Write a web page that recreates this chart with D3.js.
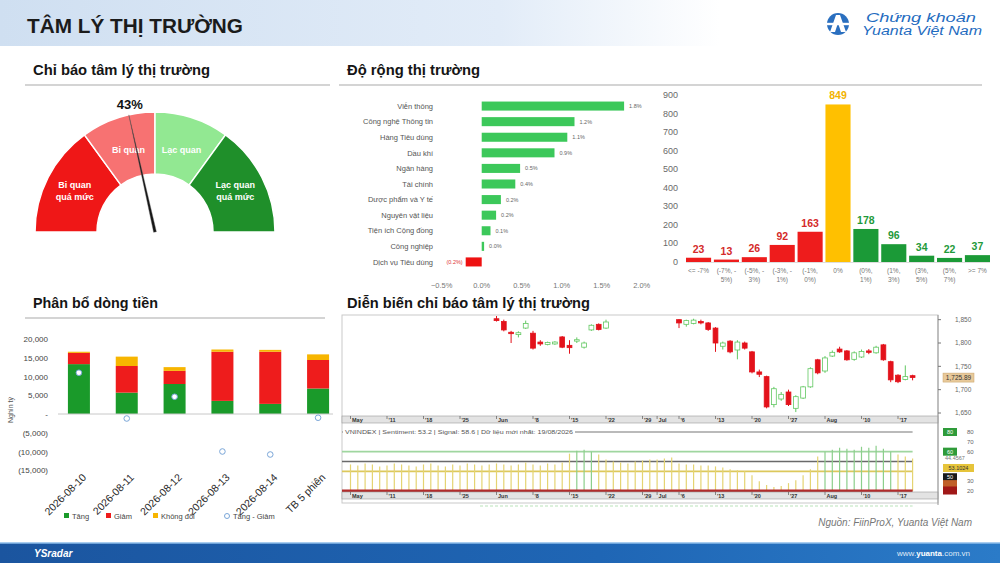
<!DOCTYPE html>
<html>
<head>
<meta charset="utf-8">
<title>Tâm lý thị trường</title>
<script src="https://d3js.org/d3.v7.min.js"></script>
<style>
  body { margin: 0; background: #fff; }
  svg { display: block; font-family: "Liberation Sans", Arial, sans-serif; }
</style>
</head>
<body>
<div id="chart"></div>
<script>
// ---------- data ----------
// gauge
var gaugeValue = 43;
var gaugeBreaks = [0, 30, 50, 70, 100];
var gaugeZoneLines = [["Bi quan", "quá mức"], ["Bi quan"], ["Lạc quan"], ["Lạc quan", "quá mức"]];

// sector breadth (%)
var sectors = ["Viễn thông", "Công nghệ Thông tin", "Hàng Tiêu dùng", "Dầu khí", "Ngân hàng", "Tài chính",
  "Dược phẩm và Y tế", "Nguyên vật liệu", "Tiện ích Cộng đồng", "Công nghiệp", "Dịch vụ Tiêu dùng"];
var sectorChange = [1.78, 1.16, 1.07, 0.91, 0.48, 0.42, 0.24, 0.18, 0.11, 0.03, -0.2];
var sectorTicks = [-0.5, 0, 0.5, 1, 1.5, 2];

// distribution of price changes
var binLabels = [["<= -7%"], ["(-7%, -", "5%)"], ["(-5%, -", "3%)"], ["(-3%, -", "1%)"], ["(-1%,", "0%)"], ["0%"],
  ["(0%,", "1%)"], ["(1%,", "3%)"], ["(3%,", "5%)"], ["(5%,", "7%)"], [">= 7%"]];
var binCounts = [23, 13, 26, 92, 163, 849, 178, 96, 34, 22, 37];
var binTicks = [0, 100, 200, 300, 400, 500, 600, 700, 800, 900];

// money flow (billion VND)
var flowDays = ["2026-08-10", "2026-08-11", "2026-08-12", "2026-08-13", "2026-08-14", "TB 5 phiên"];
var flowUp = [13300, 5700, 8000, 3500, 2700, 6800];
var flowDown = [3000, 7100, 3500, 13100, 13900, 7600];
var flowFlat = [300, 2500, 1000, 600, 500, 1500];
var flowNet = [11000, -1200, 4600, -10000, -10800, -1000];
var flowTicks = [-15000, -10000, -5000, 0, 5000, 10000, 15000, 20000];

// VNINDEX candles: date, open, high, low, close
var candles = [
  ["2026-06-01", 1852, 1858, 1846, 1848], ["2026-06-02", 1846, 1850, 1825, 1828],
  ["2026-06-03", 1823, 1826, 1800, 1820], ["2026-06-04", 1818, 1825, 1812, 1822],
  ["2026-06-05", 1832, 1848, 1830, 1842], ["2026-06-08", 1821, 1826, 1786, 1789],
  ["2026-06-09", 1802, 1806, 1794, 1798], ["2026-06-10", 1797, 1803, 1795, 1801],
  ["2026-06-11", 1798, 1804, 1796, 1802], ["2026-06-12", 1813, 1815, 1789, 1791],
  ["2026-06-15", 1795, 1806, 1777, 1790], ["2026-06-16", 1804, 1812, 1800, 1807],
  ["2026-06-17", 1791, 1803, 1788, 1800], ["2026-06-18", 1828, 1840, 1826, 1838],
  ["2026-06-19", 1840, 1842, 1827, 1829], ["2026-06-22", 1832, 1850, 1830, 1845],
  ["2026-07-06", 1850, 1851, 1832, 1843], ["2026-07-07", 1840, 1850, 1835, 1848],
  ["2026-07-08", 1842, 1852, 1840, 1849], ["2026-07-09", 1846, 1850, 1840, 1843],
  ["2026-07-10", 1843, 1845, 1826, 1829], ["2026-07-13", 1832, 1834, 1781, 1800],
  ["2026-07-14", 1793, 1803, 1786, 1800], ["2026-07-15", 1804, 1806, 1778, 1781],
  ["2026-07-16", 1785, 1806, 1765, 1802], ["2026-07-17", 1800, 1803, 1786, 1789],
  ["2026-07-20", 1781, 1783, 1735, 1738], ["2026-07-21", 1738, 1743, 1727, 1733],
  ["2026-07-22", 1728, 1730, 1660, 1663], ["2026-07-23", 1668, 1706, 1662, 1702],
  ["2026-07-24", 1680, 1695, 1676, 1690], ["2026-07-27", 1695, 1700, 1665, 1668],
  ["2026-07-28", 1660, 1688, 1652, 1685], ["2026-07-29", 1682, 1708, 1680, 1706],
  ["2026-07-30", 1706, 1748, 1704, 1745], ["2026-07-31", 1764, 1766, 1733, 1736],
  ["2026-08-03", 1740, 1772, 1736, 1768], ["2026-08-04", 1772, 1784, 1770, 1780],
  ["2026-08-05", 1787, 1792, 1779, 1781], ["2026-08-06", 1783, 1785, 1762, 1764],
  ["2026-08-07", 1765, 1782, 1762, 1779], ["2026-08-10", 1770, 1786, 1768, 1782],
  ["2026-08-11", 1783, 1787, 1776, 1780], ["2026-08-12", 1779, 1794, 1777, 1791],
  ["2026-08-13", 1796, 1798, 1762, 1764], ["2026-08-14", 1760, 1762, 1716, 1721],
  ["2026-08-17", 1731, 1733, 1714, 1717], ["2026-08-18", 1722, 1752, 1720, 1728],
  ["2026-08-19", 1730, 1732, 1720, 1725.89]
];
var lastPrice = 1725.89;
var priceTicks = [1650, 1700, 1750, 1800, 1850];

// daily sentiment, one per trading day from 2026-05-04 to 2026-08-19
var sentiment = [
  47, 46, 48, 47, 45, 46, 48, 47, 46, 45, 47, 48, 46, 45, 47, 46, 48, 47, 46, 47,
  48, 47, 46, 47, 49, 47, 46, 48, 47, 49, 58, 61, 62, 60, 57, 52, 50, 49, 48, 50, 51, 52,
  52, 53, 54, 48, 47, 47, 46, 46, 45, 44, 42, 41, 40, 36, 30, 26, 24, 25, 28, 31, 36, 42, 55,
  60, 62, 64, 63, 62, 65, 64, 66, 63, 60, 57, 55, 53
];
var sentimentLevels = [80, 60, 50, 40, 20];
var sentimentTicks = [80, 70, 60, 30, 20];
var timeTicks = ["2026-05-04", "2026-05-11", "2026-05-18", "2026-05-25", "2026-06-01", "2026-06-08", "2026-06-15",
  "2026-06-22", "2026-06-29", "2026-07-01", "2026-07-06", "2026-07-13", "2026-07-20", "2026-07-27", "2026-08-03",
  "2026-08-10", "2026-08-17"];
var timeTickLabels = ["May", "'11", "'18", "'25", "Jun", "'8", "'15", "'22", "'29", "Jul", "'6", "'13", "'20", "'27", "Aug", "'10", "'17"];
var markValues = [80, 60, 43.4, 34, 27, 20.5];
var markTexts = ["80", "60", "53.1024", "50", "", ""];

// ---------- page ----------
var W = 1000, H = 563;
var svg = d3.select("#chart").append("svg").attr("width", W).attr("height", H);
var defs = svg.append("defs");

// header band
var hg = defs.append("linearGradient").attr("id", "hdr");
hg.append("stop").attr("offset", "0").attr("stop-color", "#cfdff1");
hg.append("stop").attr("offset", "0.5").attr("stop-color", "#e2ecf8");
hg.append("stop").attr("offset", "0.72").attr("stop-color", "#ffffff");
svg.append("rect").attr("x", 0).attr("y", 0).attr("width", W).attr("height", 46).attr("fill", "url(#hdr)");
svg.append("text").attr("x", 27).attr("y", 33).attr("font-size", 21).attr("font-weight", "bold")
  .attr("fill", "#1b1b1b").attr("textLength", 216).attr("lengthAdjust", "spacingAndGlyphs")
  .text("TÂM LÝ THỊ TRƯỜNG");

// logo
var logo = svg.append("g").attr("transform", "translate(838,24)");
logo.append("circle").attr("r", 11).attr("fill", "#2a6fbf");
logo.append("path").attr("d", "M-2,-9 L2,-9 L8,8 L3,8 L0,-1 L-3,8 L-8,8 Z").attr("fill", "#fff");
logo.append("rect").attr("x", -11).attr("y", -1.2).attr("width", 22).attr("height", 2.4).attr("fill", "#fff");
svg.append("text").attr("x", 866).attr("y", 22).attr("font-size", 12).attr("font-style", "italic")
  .attr("fill", "#1f6cc0").attr("textLength", 110).attr("lengthAdjust", "spacingAndGlyphs").text("Chứng khoán");
svg.append("text").attr("x", 862).attr("y", 35).attr("font-size", 12).attr("font-style", "italic")
  .attr("fill", "#1f6cc0").attr("textLength", 120).attr("lengthAdjust", "spacingAndGlyphs").text("Yuanta Việt Nam");

// section titles
function section(txt, x, y, len, x2) {
  svg.append("text").attr("x", x).attr("y", y).attr("font-size", 14).attr("font-weight", "bold")
    .attr("fill", "#151515").attr("textLength", len).attr("lengthAdjust", "spacingAndGlyphs").text(txt);
  if (x2) {
    svg.append("line").attr("x1", x - 8).attr("x2", x2).attr("y1", y + 10).attr("y2", y + 10)
      .attr("stroke", "#d4d4d4").attr("stroke-width", 2);
  }
}
section("Chỉ báo tâm lý thị trường", 33, 75, 177, 330);
section("Độ rộng thị trường", 347, 75, 133, 982);
section("Phân bổ dòng tiền", 33, 308, 125, 325);
section("Diễn biến chỉ báo tâm lý thị trường", 347, 308, 243, null);

// ---------- gauge ----------
var gcx = 155, gcy = 232;
var ang = d3.scaleLinear().domain([0, 100]).range([-Math.PI / 2, Math.PI / 2]);
var zoneColors = ["#ef1717", "#f77272", "#92e892", "#1f8f2a"];
var arc = d3.arc().innerRadius(58).outerRadius(120);
var gauge = svg.append("g").attr("transform", "translate(" + gcx + "," + gcy + ")");
gaugeZoneLines.forEach(function (lines, i) {
  var a0 = ang(gaugeBreaks[i]), a1 = ang(gaugeBreaks[i + 1]);
  gauge.append("path").attr("d", arc({ startAngle: a0, endAngle: a1 }))
    .attr("fill", zoneColors[i]).attr("stroke", "#fff").attr("stroke-width", 1.5);
  var am = (a0 + a1) / 2, r = lines.length > 1 ? 90 : 86;
  var t = gauge.append("text").attr("text-anchor", "middle").attr("font-size", 9).attr("font-weight", "bold")
    .attr("fill", "#fff");
  lines.forEach(function (l, k) {
    t.append("tspan").attr("x", r * Math.sin(am))
      .attr("y", -r * Math.cos(am) + (k - (lines.length - 1) / 2) * 12 + 3).text(l);
  });
});
var na = ang(gaugeValue);
var tipx = 120 * Math.sin(na), tipy = -120 * Math.cos(na);
var px = 1.4 * Math.cos(na), py = 1.4 * Math.sin(na);
gauge.append("path").attr("d", "M" + (-px) + "," + (-py) + " L" + tipx + "," + tipy + " L" + px + "," + py + " Z")
  .attr("fill", "#151515").attr("stroke", "#555").attr("stroke-width", 0.4);
gauge.append("text").attr("x", tipx + 1).attr("y", tipy - 6).attr("text-anchor", "middle")
  .attr("font-size", 13).attr("font-weight", "bold").attr("fill", "#111").text(gaugeValue + "%");

// ---------- sector bars ----------
var sx = d3.scaleLinear().domain([-0.5, 2]).range([441.7, 641.7]);
var sy = d3.scaleBand().domain(sectors).range([95, 273]).padding(0.42);
var sg = svg.append("g");
sg.selectAll("rect").data(sectors).enter().append("rect")
  .attr("x", function (d, i) { return sx(Math.min(0, sectorChange[i])); })
  .attr("y", function (d) { return sy(d); })
  .attr("width", function (d, i) { return Math.abs(sx(sectorChange[i]) - sx(0)); })
  .attr("height", sy.bandwidth())
  .attr("fill", function (d, i) { return sectorChange[i] < 0 ? "#ee1111" : "#3cc85a"; });
sg.selectAll(".cat").data(sectors).enter().append("text")
  .attr("x", 433).attr("y", function (d) { return sy(d) + sy.bandwidth() / 2 + 2.7; })
  .attr("text-anchor", "end").attr("font-size", 7.5).attr("fill", "#555").text(function (d) { return d; });
sg.selectAll(".val").data(sectors).enter().append("text")
  .attr("x", function (d, i) { var v = sectorChange[i]; return v < 0 ? sx(v) - 3 : sx(v) + 5; })
  .attr("y", function (d) { return sy(d) + sy.bandwidth() / 2 + 2; })
  .attr("text-anchor", function (d, i) { return sectorChange[i] < 0 ? "end" : "start"; })
  .attr("font-size", 5.5)
  .attr("fill", function (d, i) { return sectorChange[i] < 0 ? "#d33" : "#666"; })
  .text(function (d, i) {
    var v = sectorChange[i];
    return v < 0 ? "(" + d3.format(".1f")(-v) + "%)" : d3.format(".1f")(v) + "%";
  });
sg.selectAll(".tick").data(sectorTicks).enter().append("text")
  .attr("x", function (d) { return sx(d); }).attr("y", 288).attr("text-anchor", "middle")
  .attr("font-size", 7.5).attr("fill", "#777").text(function (d) { return d3.format(".1f")(d) + "%"; });

// ---------- distribution bars ----------
var bx = d3.scaleBand().domain(d3.range(binCounts.length)).range([686, 990]).paddingInner(0.1);
var by = d3.scaleLinear().domain([0, 900]).range([262, 95]);
function binColor(i) { return i < 5 ? "#ee1c1c" : (i === 5 ? "#ffc000" : "#1b9a37"); }
function binText(i) { return i < 5 ? "#d42a2a" : (i === 5 ? "#f2b300" : "#1f9a3a"); }
var bg = svg.append("g");
bg.selectAll(".yl").data(binTicks).enter().append("text")
  .attr("x", 678).attr("y", function (d) { return by(d) + 3; }).attr("text-anchor", "end")
  .attr("font-size", 9).attr("fill", "#6a6a6a").text(function (d) { return d; });
bg.selectAll("rect").data(binCounts).enter().append("rect")
  .attr("x", function (d, i) { return bx(i); }).attr("width", bx.bandwidth())
  .attr("y", function (d) { return by(d); }).attr("height", function (d) { return by(0) - by(d); })
  .attr("fill", function (d, i) { return binColor(i); });
bg.selectAll(".vl").data(binCounts).enter().append("text")
  .attr("x", function (d, i) { return bx(i) + bx.bandwidth() / 2; })
  .attr("y", function (d) { return by(d) - 5; }).attr("text-anchor", "middle")
  .attr("font-size", 10.5).attr("font-weight", "bold")
  .attr("fill", function (d, i) { return binText(i); }).text(function (d) { return d; });
bg.append("line").attr("x1", 686).attr("x2", 990).attr("y1", 262.5).attr("y2", 262.5)
  .attr("stroke", "#ddd").attr("stroke-width", 1);
binLabels.forEach(function (lines, i) {
  var t = bg.append("text").attr("text-anchor", "middle").attr("font-size", 6.5).attr("fill", "#777");
  lines.forEach(function (l, k) {
    t.append("tspan").attr("x", bx(i) + bx.bandwidth() / 2).attr("y", 273 + k * 9).text(l);
  });
});

// ---------- money flow ----------
var fx = d3.scaleBand().domain(flowDays).range([55, 342]).paddingInner(0.54).paddingOuter(0.27);
var fy = d3.scaleLinear().domain([-15000, 20000]).range([470.25, 339]);
var flowRows = flowDays.map(function (d, i) { return { day: d, up: flowUp[i], down: flowDown[i], flat: flowFlat[i] }; });
var stack = d3.stack().keys(["up", "down", "flat"])(flowRows);
var flowColors = { up: "#1a9a2a", down: "#ee1c1c", flat: "#f7b500" };
var fg = svg.append("g");
fg.selectAll(".yl").data(flowTicks).enter().append("text")
  .attr("x", 48).attr("y", function (d) { return fy(d) + 3; }).attr("text-anchor", "end")
  .attr("font-size", 8).attr("fill", "#444")
  .text(function (d) { return d === 0 ? "-" : (d < 0 ? "(" + d3.format(",")(-d) + ")" : d3.format(",")(d)); });
fg.append("text").attr("transform", "translate(13,410) rotate(-90)").attr("text-anchor", "middle")
  .attr("font-size", 7).attr("fill", "#555").text("Nghìn tỷ");
stack.forEach(function (layer) {
  fg.selectAll(".s" + layer.key).data(layer).enter().append("rect")
    .attr("x", function (d) { return fx(d.data.day); }).attr("width", fx.bandwidth())
    .attr("y", function (d) { return fy(d[1]); }).attr("height", function (d) { return fy(d[0]) - fy(d[1]); })
    .attr("fill", flowColors[layer.key]);
});
fg.append("line").attr("x1", 58).attr("x2", 333).attr("y1", fy(0)).attr("y2", fy(0))
  .attr("stroke", "#c8c8c8").attr("stroke-width", 1);
fg.selectAll(".net").data(flowNet).enter().append("circle")
  .attr("cx", function (d, i) { return fx(flowDays[i]) + fx.bandwidth() / 2; })
  .attr("cy", function (d) { return fy(d); }).attr("r", 2.8)
  .attr("fill", "#fff").attr("stroke", "#7aa6d8").attr("stroke-width", 1);
fg.selectAll(".xl").data(flowDays).enter().append("text")
  .attr("transform", function (d) { return "translate(" + (fx(d) + fx.bandwidth() / 2 + 8) + ",478) rotate(-45)"; })
  .attr("text-anchor", "end").attr("font-size", 10.5).attr("fill", "#2a2a2a").text(function (d) { return d; });
var legend = [["Tăng", 64, "#1a9a2a"], ["Giảm", 106, "#ee1c1c"], ["Không đổi", 153, "#f7b500"]];
legend.forEach(function (l) {
  fg.append("rect").attr("x", l[1]).attr("y", 513).attr("width", 5).attr("height", 5).attr("fill", l[2]);
  fg.append("text").attr("x", l[1] + 8).attr("y", 518.5).attr("font-size", 7.5).attr("fill", "#444").text(l[0]);
});
fg.append("circle").attr("cx", 227).attr("cy", 516).attr("r", 2.5).attr("fill", "#fff")
  .attr("stroke", "#7aa6d8").attr("stroke-width", 1);
fg.append("text").attr("x", 233).attr("y", 518.5).attr("font-size", 7.5).attr("fill", "#444").text("Tăng - Giảm");

// ---------- sentiment chart ----------
var days = d3.timeDay.range(new Date(2026, 4, 4), new Date(2026, 7, 20))
  .filter(function (d) { return d.getDay() > 0 && d.getDay() < 6; });
var dayKeys = days.map(d3.timeFormat("%Y-%m-%d"));
var xd = d3.scalePoint().domain(dayKeys).range([350.5, 912.6]);
var yp = d3.scaleLinear().domain([1650, 1800]).range([413, 343]);
var ys = d3.scaleLinear().domain([20, 80]).range([491, 432]);

var cg = svg.append("g");
cg.append("rect").attr("x", 342).attr("y", 315).attr("width", 596).attr("height", 188)
  .attr("fill", "#fff").attr("stroke", "#c9c9c9").attr("stroke-width", 1);
defs.append("clipPath").attr("id", "pclip").append("rect")
  .attr("x", 342).attr("y", 316).attr("width", 596).attr("height", 100);
var candleG = cg.append("g").attr("clip-path", "url(#pclip)");
candles.forEach(function (c) {
  var x = xd(c[0]), up = c[4] >= c[1];
  var col = up ? "#62c862" : "#e3121b";
  candleG.append("line").attr("x1", x).attr("x2", x).attr("y1", yp(c[2])).attr("y2", yp(c[3]))
    .attr("stroke", col).attr("stroke-width", 1);
  var top = yp(Math.max(c[1], c[4])), bot = yp(Math.min(c[1], c[4]));
  candleG.append("rect").attr("x", x - 2.4).attr("width", 4.8).attr("y", top)
    .attr("height", Math.max(1, bot - top)).attr("fill", up ? "#fff" : col)
    .attr("stroke", col).attr("stroke-width", 0.8);
});

function dateStrip(y) {
  cg.append("rect").attr("x", 342).attr("y", y).attr("width", 596).attr("height", 7)
    .attr("fill", "#e3e3e3").attr("stroke", "#999").attr("stroke-width", 0.6);
  timeTicks.forEach(function (t, i) {
    var x = xd(t);
    cg.append("line").attr("x1", x).attr("x2", x).attr("y1", y).attr("y2", y + 3)
      .attr("stroke", "#444").attr("stroke-width", 0.6);
    cg.append("text").attr("x", x + 1.5).attr("y", y + 6).attr("font-size", 5.5).attr("font-weight", "bold")
      .attr("fill", "#333").text(timeTickLabels[i]);
  });
}
dateStrip(416);

// indicator panel
var lvlColors = ["#a3a3a3", "#9fd69f", "#6a6a6a", "#dcc85c", "#b22b2b"];
sentimentLevels.forEach(function (v, i) {
  if (v === 20) return;
  cg.append("line").attr("x1", 342).attr("x2", xd.range()[1]).attr("y1", ys(v)).attr("y2", ys(v))
    .attr("stroke", lvlColors[i]).attr("stroke-width", 1.6);
});
sentiment.forEach(function (v, i) {
  var x = xd(dayKeys[i]);
  cg.append("line").attr("x1", x).attr("x2", x).attr("y1", ys(20)).attr("y2", ys(v))
    .attr("stroke", v >= 59 ? "#8ccf8c" : "#e5d472").attr("stroke-width", 1.2);
});
cg.append("line").attr("x1", 342).attr("x2", xd.range()[1]).attr("y1", ys(20)).attr("y2", ys(20))
  .attr("stroke", lvlColors[4]).attr("stroke-width", 3);
cg.append("rect").attr("x", 343).attr("y", 428).attr("width", 232).attr("height", 8).attr("fill", "#fff");
cg.append("text").attr("x", 345).attr("y", 434).attr("font-size", 5.5).attr("fill", "#555")
  .attr("textLength", 228).attr("lengthAdjust", "spacingAndGlyphs")
  .text("VNINDEX | Sentiment: 53.2 | Signal: 58.6 | Dữ liệu mới nhất: 19/08/2026");
dateStrip(492);
cg.append("line").attr("x1", 480).attr("x2", xd.range()[1]).attr("y1", 506).attr("y2", 506)
  .attr("stroke", "#b9e3b9").attr("stroke-width", 1).attr("stroke-dasharray", "3,2");

// right axis column
cg.append("line").attr("x1", 938).attr("x2", 938).attr("y1", 315).attr("y2", 505)
  .attr("stroke", "#9a9a9a").attr("stroke-width", 1);
priceTicks.forEach(function (v) {
  cg.append("line").attr("x1", 938).attr("x2", 941).attr("y1", yp(v)).attr("y2", yp(v)).attr("stroke", "#777");
  cg.append("text").attr("x", 955).attr("y", yp(v) + 2.2).attr("font-size", 6.5).attr("fill", "#666")
    .text(d3.format(",")(v));
});
cg.append("rect").attr("x", 943).attr("y", yp(lastPrice) - 4.5).attr("width", 31).attr("height", 9)
  .attr("fill", "#e8c99a").attr("stroke", "#c9a36a").attr("stroke-width", 0.5);
cg.append("text").attr("x", 958.5).attr("y", yp(lastPrice) + 2.2).attr("text-anchor", "middle")
  .attr("font-size", 6.5).attr("fill", "#333").text(d3.format(",.2f")(lastPrice));
sentimentTicks.forEach(function (v) {
  cg.append("text").attr("x", 967).attr("y", ys(v) + 2).attr("font-size", 6).attr("fill", "#666").text(v);
});
var markColors = ["#2f9b3a", "#2f9b3a", "#e6c43a", "#1a1a1a", "#c0602a", "#a01818"];
markValues.forEach(function (v, i) {
  var wide = markTexts[i].length > 3;
  cg.append("rect").attr("x", 943).attr("y", ys(v) - 4).attr("width", wide ? 31 : 14).attr("height", 8)
    .attr("fill", markColors[i]);
  cg.append("text").attr("x", wide ? 958.5 : 950).attr("y", ys(v) + 2).attr("text-anchor", "middle")
    .attr("font-size", 5.5).attr("fill", i === 2 ? "#333" : "#fff").text(markTexts[i]);
});
cg.append("text").attr("x", 945).attr("y", ys(53.6) + 2).attr("font-size", 5.5).attr("fill", "#777").text("44.4567");

// source
svg.append("text").attr("x", 972).attr("y", 526).attr("text-anchor", "end").attr("font-size", 10)
  .attr("font-style", "italic").attr("fill", "#777").text("Nguồn: FiinProX, Yuanta Việt Nam");

// footer
var ftr = defs.append("linearGradient").attr("id", "ftr");
ftr.append("stop").attr("offset", "0").attr("stop-color", "#1b559f");
ftr.append("stop").attr("offset", "0.6").attr("stop-color", "#1f66b5");
ftr.append("stop").attr("offset", "1").attr("stop-color", "#2b7bc8");
svg.append("rect").attr("x", 0).attr("y", 543).attr("width", W).attr("height", 20).attr("fill", "url(#ftr)");
svg.append("line").attr("x1", 0).attr("x2", W).attr("y1", 543).attr("y2", 543)
  .attr("stroke", "#8dbdea").attr("stroke-width", 1.5);
svg.append("text").attr("x", 34).attr("y", 557).attr("font-size", 10).attr("font-style", "italic")
  .attr("font-weight", "bold").attr("fill", "#fff").text("YSradar");
var web = svg.append("text").attr("x", 970).attr("y", 556).attr("text-anchor", "end").attr("font-size", 8)
  .attr("fill", "#dfeaf7");
web.append("tspan").text("www.");
web.append("tspan").attr("font-weight", "bold").attr("fill", "#fff").text("yuanta");
web.append("tspan").text(".com.vn");
</script>
</body>
</html>
